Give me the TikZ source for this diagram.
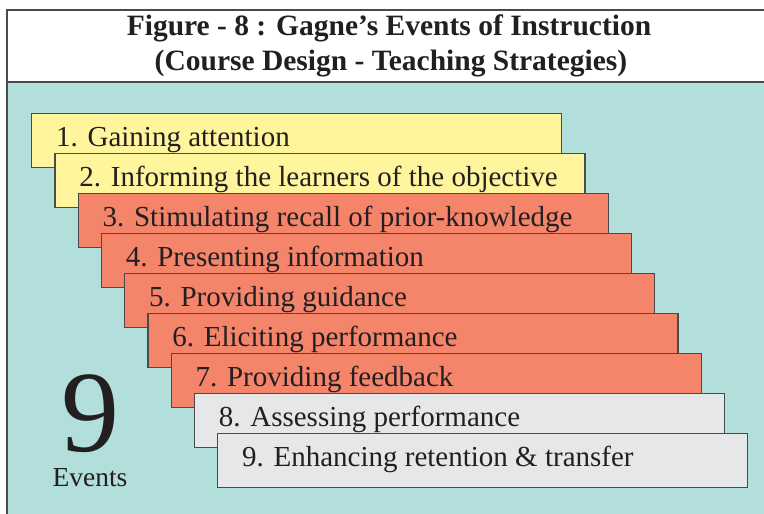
\documentclass[tikz,border=0pt]{standalone}
\usepackage{fontspec}
\setmainfont{Liberation Serif}
\definecolor{panel}{HTML}{B2DEDB}
\definecolor{pale}{HTML}{FFF59C}
\definecolor{salmon}{HTML}{F4846A}
\definecolor{ash}{HTML}{E6E7E8}
\definecolor{rule}{HTML}{4A4A4A}
\definecolor{ink}{HTML}{231F20}
\tikzset{
  stepbox/.style={draw=rule, line width=1.3pt, rectangle, inner sep=0pt,
    minimum width=530pt, minimum height=54pt, anchor=north west},
  steplabel/.style={anchor=base west, inner sep=0pt, text=ink,
    font=\fontsize{29}{31}\selectfont},
  titletext/.style={anchor=base, inner sep=0pt, text=ink,
    font=\bfseries\fontsize{29.5}{32}\selectfont},
}
\begin{document}
\begin{tikzpicture}[x=1pt,y=-1pt]
  \useasboundingbox (0,0) rectangle (764,514);
  \clip (0,0) rectangle (764,514);
  % frame: white title band over a teal panel
  \fill[white] (0,0) rectangle (764,514);
  \fill[panel] (7,82) rectangle (800,560);
  \draw[rule, line width=1.6pt] (7,560) -- (7,10) -- (800,10);
  \draw[rule, line width=1.6pt] (7,82) -- (800,82);
  % title
  \node[titletext] (title1) at (389,35) {Figure - 8 : Gagne’s Events of Instruction};
  \node[titletext] (title2) at (391,70) {(Course Design - Teaching Strategies)};
  % the nine staggered steps
  \foreach \i/\col/\txt in {
      0/pale/{1. Gaining attention},
      1/pale/{2. Informing the learners of the objective},
      2/salmon/{3. Stimulating recall of prior-knowledge},
      3/salmon/{4. Presenting information},
      4/salmon/{5. Providing guidance},
      5/salmon/{6. Eliciting performance},
      6/salmon/{7. Providing feedback},
      7/ash/{8. Assessing performance},
      8/ash/{9. Enhancing retention \& transfer}} {
    \node[stepbox, fill=\col] (step\i) at ({31+23.25*\i},{113+40*\i}) {};
    \node[steplabel] (label\i) at ([shift={(25,33)}]step\i.north west) {\txt};
  }
  % big count
  \node[inner sep=0pt, text=ink, anchor=base, text depth=0pt,
    font=\fontsize{116}{116}\selectfont] (nine) at (90,451) {9};
  \node[inner sep=0pt, text=ink, anchor=base, font=\fontsize{27.5}{30}\selectfont]
    (events) at (90,486) {Events};
\end{tikzpicture}
\end{document}
